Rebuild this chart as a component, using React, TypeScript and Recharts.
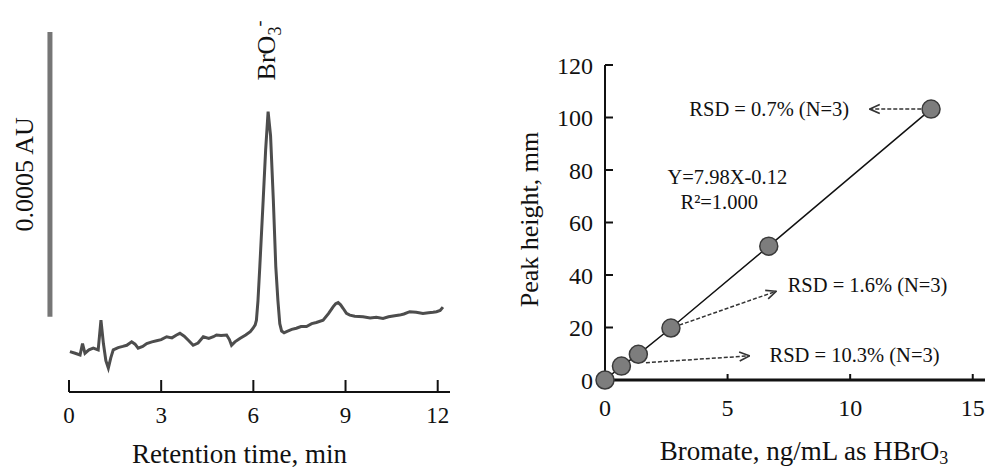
import {
  ComposedChart,
  Label,
  Line,
  ReferenceDot,
  ReferenceLine,
  XAxis,
  YAxis,
} from "recharts";

const FONT = "Liberation Serif";
const INK = "#111";

// chromatogram: retention time (min) vs absorbance (mAU)
const TIME = [
  0.03, 0.2, 0.36, 0.44, 0.52, 0.65, 0.79, 0.95, 1.04, 1.12, 1.2, 1.28, 1.36,
  1.44, 1.6, 1.75, 1.88, 2.04, 2.15, 2.25, 2.4, 2.53, 2.7, 2.85, 3.0, 3.18,
  3.35, 3.5, 3.61, 3.75, 3.9, 4.04, 4.2, 4.37, 4.55, 4.7, 4.8, 4.95, 5.13,
  5.22, 5.29, 5.4, 5.56, 5.75, 5.9, 5.99, 6.06, 6.1, 6.15, 6.21, 6.32, 6.4,
  6.48, 6.56, 6.65, 6.73, 6.8, 6.86, 6.92, 7.0, 7.08, 7.25, 7.4, 7.55, 7.73,
  7.9, 8.05, 8.27, 8.45, 8.6, 8.68, 8.76, 8.84, 8.92, 9.03, 9.14, 9.3, 9.57,
  9.8, 10.0, 10.22, 10.4, 10.6, 10.76, 10.9, 11.09, 11.3, 11.52, 11.7, 11.85,
  11.96, 12.08, 12.17,
];
const SIGNAL = [
  0.071, 0.068, 0.065, 0.085, 0.068, 0.074, 0.077, 0.074, 0.126, 0.085, 0.055,
  0.042, 0.06, 0.074, 0.078, 0.08, 0.082, 0.088, 0.084, 0.077, 0.08, 0.085,
  0.088, 0.09, 0.092, 0.097, 0.095, 0.1, 0.103, 0.098, 0.09, 0.082, 0.086,
  0.097, 0.094, 0.097, 0.1, 0.099, 0.1, 0.092, 0.082, 0.088, 0.094, 0.1, 0.106,
  0.112, 0.118, 0.126, 0.16, 0.22, 0.337, 0.425, 0.492, 0.45, 0.337, 0.22,
  0.16, 0.12, 0.107, 0.104, 0.106, 0.11, 0.112, 0.115, 0.115, 0.12, 0.122,
  0.126, 0.138, 0.15, 0.155, 0.157, 0.153, 0.147, 0.138, 0.135, 0.133, 0.132,
  0.13, 0.131, 0.129, 0.132, 0.134, 0.135, 0.137, 0.141, 0.14, 0.138, 0.139,
  0.14, 0.141, 0.143, 0.149,
];
const TIME_TICKS = [0, 3, 6, 9, 12];

// calibration: bromate (ng/mL) vs peak height (mm)
const CONC = [0, 0.67, 1.36, 2.69, 6.68, 13.3];
const HEIGHT = [0, 5.3, 9.8, 19.8, 51, 103.2];
const CONC_TICKS = [0, 5, 10, 15];
const HEIGHT_TICKS = [0, 20, 40, 60, 80, 100, 120];

// RSD call-outs: label anchor (left edge) and arrow from/to, in data units
const RSD_TEXT = ["RSD = 0.7% (N=3)", "RSD = 1.6% (N=3)", "RSD = 10.3% (N=3)"];
const RSD_AT = [
  [3.44, 103.2],
  [7.45, 36.3],
  [6.71, 9.6],
];
const RSD_ARROWS = [
  [12.9, 103.2, 10.8, 103.2],
  [3.03, 20.9, 6.98, 33.8],
  [1.67, 6.6, 5.89, 9.2],
];

const trace = TIME.map((t, i) => ({ t, v: SIGNAL[i] }));
const calib = CONC.map((x, i) => ({ x, y: HEIGHT[i] }));

const tickStyle = (size: number) => ({ fontSize: size, fontFamily: FONT, fill: INK });

function ArrowLine(p: any) {
  return (
    <line
      x1={p.x1}
      y1={p.y1}
      x2={p.x2}
      y2={p.y2}
      stroke="#333"
      strokeWidth={1.5}
      strokeDasharray="4 2"
      markerEnd="url(#arrowHead)"
    />
  );
}

function Chromatogram() {
  return (
    <ComposedChart
      width={460}
      height={468}
      data={trace}
      margin={{ top: 16, right: 10, bottom: 0, left: 69 }}
    >
      <XAxis
        type="number"
        dataKey="t"
        domain={[0, 12.4]}
        ticks={TIME_TICKS}
        interval={0}
        height={76}
        tickSize={-12}
        tickMargin={27}
        axisLine={{ stroke: INK, strokeWidth: 2 }}
        tickLine={{ stroke: INK, strokeWidth: 2 }}
        tick={tickStyle(23)}
      >
        <Label
          content={({ viewBox }: any) => (
            <text
              x={viewBox.x + viewBox.width / 2 - 20}
              y={viewBox.y + 71}
              textAnchor="middle"
              fontSize={27}
              fontFamily={FONT}
              fill={INK}
            >
              Retention time, min
            </text>
          )}
        />
      </XAxis>
      <YAxis hide domain={[0, 0.66]} />
      {/* 0.5 mAU scale bar */}
      <ReferenceLine
        segment={[
          { x: -0.62, y: 0.132 },
          { x: -0.62, y: 0.632 },
        ]}
        ifOverflow="visible"
        stroke="#767676"
        strokeWidth={5}
        label={{
          content: ({ viewBox }: any) => {
            const x = viewBox.x - 17;
            const y = viewBox.y + viewBox.height / 2;
            return (
              <text
                x={x}
                y={y}
                transform={`rotate(-90, ${x}, ${y})`}
                textAnchor="middle"
                fontSize={26}
                fontFamily={FONT}
                fill={INK}
              >
                0.0005 AU
              </text>
            );
          },
        }}
      />
      <ReferenceDot
        x={6.7}
        y={0.547}
        r={0}
        ifOverflow="visible"
        label={{
          content: ({ viewBox }: any) => {
            const x = viewBox.x;
            const y = viewBox.y;
            return (
              <text
                x={x}
                y={y}
                transform={`rotate(-90, ${x}, ${y})`}
                textAnchor="start"
                fontSize={26}
                fontFamily={FONT}
                fill={INK}
              >
                BrO
                <tspan fontSize={18} dy={6}>
                  3
                </tspan>
                <tspan fontSize={18} dy={-16}>
                  -
                </tspan>
              </text>
            );
          },
        }}
      />
      <Line
        dataKey="v"
        type="linear"
        stroke="#4d4d4d"
        strokeWidth={3}
        dot={false}
        isAnimationActive={false}
      />
    </ComposedChart>
  );
}

function textDot(x: number, y: number, content: any, key: string) {
  return (
    <ReferenceDot
      key={key}
      x={x}
      y={y}
      r={0}
      ifOverflow="visible"
      label={{ content: ({ viewBox }: any) => content(viewBox.x, viewBox.y) }}
    />
  );
}

function Calibration() {
  return (
    <ComposedChart
      width={477}
      height={468}
      data={calib}
      margin={{ top: 65, right: 2, bottom: 0, left: 10 }}
    >
      <defs>
        <marker
          id="arrowHead"
          viewBox="0 0 12 12"
          refX={11}
          refY={6}
          markerWidth={12}
          markerHeight={12}
          markerUnits="userSpaceOnUse"
          orient="auto"
        >
          <path d="M1,1.5 L11,6 L1,10.5" fill="none" stroke="#333" strokeWidth={1.6} />
        </marker>
      </defs>
      <XAxis
        type="number"
        dataKey="x"
        domain={[0, 15.5]}
        ticks={CONC_TICKS}
        interval={0}
        height={88}
        tickSize={-6}
        tickMargin={25}
        axisLine={{ stroke: INK, strokeWidth: 3 }}
        tickLine={{ stroke: INK, strokeWidth: 2 }}
        tick={tickStyle(24)}
      >
        <Label
          content={({ viewBox }: any) => (
            <text
              x={viewBox.x + viewBox.width / 2 + 9}
              y={viewBox.y + 80}
              textAnchor="middle"
              fontSize={27}
              fontFamily={FONT}
              fill={INK}
            >
              Bromate, ng/mL as HBrO
              <tspan fontSize={18} dy={4}>
                3
              </tspan>
            </text>
          )}
        />
      </XAxis>
      <YAxis
        type="number"
        domain={[0, 120]}
        ticks={HEIGHT_TICKS}
        interval={0}
        width={85}
        tickSize={-8}
        tickMargin={20}
        axisLine={{ stroke: INK, strokeWidth: 2 }}
        tickLine={{ stroke: INK, strokeWidth: 2 }}
        tick={tickStyle(24)}
      >
        <Label
          content={({ viewBox }: any) => {
            const x = viewBox.x + 18;
            const y = viewBox.y + viewBox.height / 2 - 3;
            return (
              <text
                x={x}
                y={y}
                transform={`rotate(-90, ${x}, ${y})`}
                textAnchor="middle"
                fontSize={26}
                fontFamily={FONT}
                fill={INK}
              >
                Peak height, mm
              </text>
            );
          }}
        />
      </YAxis>
      {RSD_ARROWS.map((a, i) => (
        <ReferenceLine
          key={`arrow${i}`}
          segment={[
            { x: a[0], y: a[1] },
            { x: a[2], y: a[3] },
          ]}
          shape={ArrowLine}
        />
      ))}
      {RSD_TEXT.map((s, i) =>
        textDot(
          RSD_AT[i][0],
          RSD_AT[i][1],
          (x: number, y: number) => (
            <text x={x} y={y + 7} fontSize={20.5} fontFamily={FONT} fill={INK}>
              {s}
            </text>
          ),
          `rsd${i}`,
        ),
      )}
      {textDot(
        4.99,
        77.2,
        (x: number, y: number) => (
          <text x={x} y={y + 7} textAnchor="middle" fontSize={20.5} fontFamily={FONT} fill={INK}>
            Y=7.98X-0.12
          </text>
        ),
        "eq",
      )}
      {textDot(
        4.66,
        67.7,
        (x: number, y: number) => (
          <text x={x} y={y + 7} textAnchor="middle" fontSize={20.5} fontFamily={FONT} fill={INK}>
            R²=1.000
          </text>
        ),
        "r2",
      )}
      <Line
        dataKey="y"
        type="linear"
        stroke={INK}
        strokeWidth={1.5}
        dot={{ r: 9, fill: "#7d7d7d", stroke: "#3a3a3a", strokeWidth: 1.5 }}
        isAnimationActive={false}
      />
    </ComposedChart>
  );
}

export default function App() {
  return (
    <div
      style={{
        position: "absolute",
        left: 0,
        top: 0,
        width: 987,
        height: 468,
        background: "#fff",
      }}
    >
      <div style={{ position: "absolute", left: 0, top: 0 }}>
        <Chromatogram />
      </div>
      <div style={{ position: "absolute", left: 510, top: 0 }}>
        <Calibration />
      </div>
    </div>
  );
}
